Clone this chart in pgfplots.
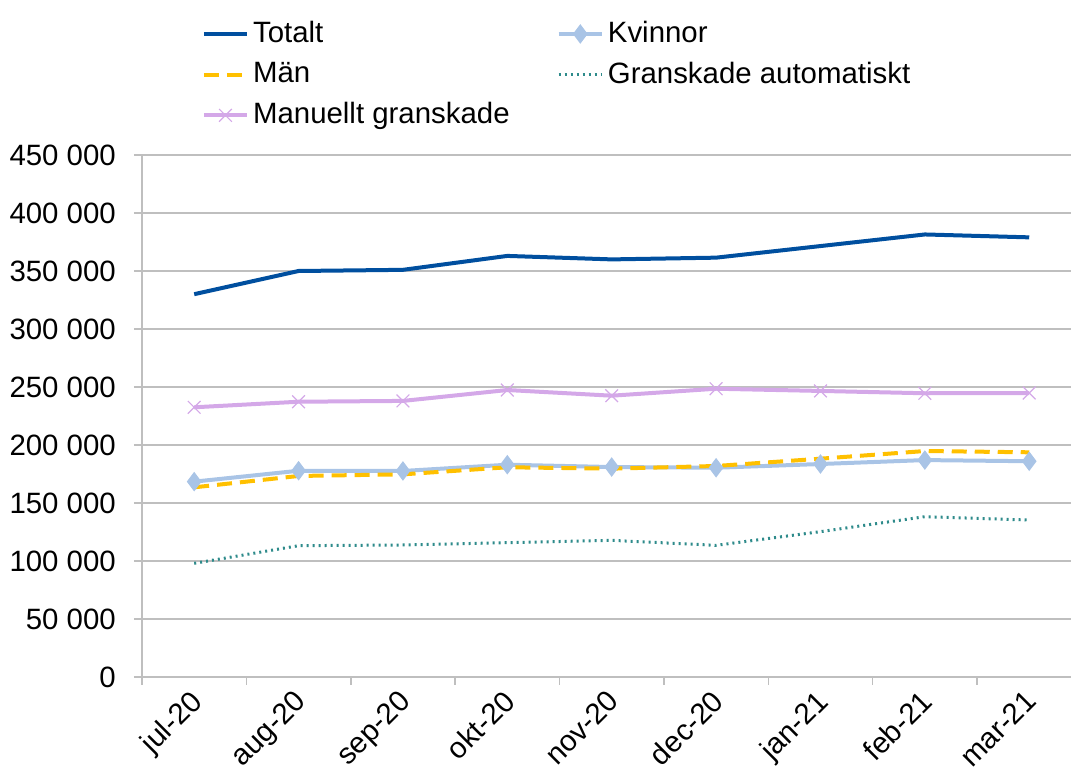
\documentclass[border=0pt]{standalone}
\usepackage{pgfplots}
\pgfplotsset{compat=1.18}
\usepackage{fontspec}
\setmainfont{Liberation Sans}
\definecolor{ctot}{HTML}{004F9F}
\definecolor{ckv}{HTML}{A9C4E6}
\definecolor{cman}{HTML}{FFC000}
\definecolor{caut}{HTML}{2E8B8B}
\definecolor{cmanu}{HTML}{D4A8E8}
\definecolor{cgrid}{HTML}{BFBFBF}
\begin{document}
\fontsize{14.7}{17}\selectfont
\begin{tikzpicture}
\begin{axis}[
  at={(0,0)}, anchor=south west,
  scale only axis, width=464.5pt, height=261pt,
  xmin=-0.5, xmax=8.4, ymin=0, ymax=450000,
  scaled y ticks=false,
  axis x line=bottom, axis y line=left,
  axis line style={cgrid, line width=0.75pt, -},
  xtick={0,...,8},
  xticklabels={jul-20,aug-20,sep-20,okt-20,nov-20,dec-20,jan-21,feb-21,mar-21},
  minor xtick={-0.5,0.5,...,7.5},
  major x tick style={draw=none},
  minor x tick style={cgrid, line width=0.75pt},
  minor tick length=4pt,
  tick align=outside,
  xticklabel style={rotate=45, anchor=north east, font=\fontsize{14.7}{17}\selectfont, inner sep=1pt, xshift=-2pt, yshift=2pt},
  ytick={0,50000,...,450000},
  yticklabels={0,50 000,100 000,150 000,200 000,250 000,300 000,350 000,400 000,450 000},
  yticklabel style={font=\fontsize{14.7}{17}\selectfont, xshift=-4pt},
  major y tick style={cgrid, line width=0.75pt},
  major tick length=4pt,
  ymajorgrids, major grid style={cgrid, line width=0.75pt},
  clip=false,
  legend columns=2,
  legend cell align=left,
  legend style={draw=none, fill=none, inner sep=0pt,
    at={(rel axis cs:0.064,1.265)}, anchor=north west,
    font=\fontsize{14.7}{17}\selectfont,
    /tikz/every even column/.style={column sep=21.5pt},
    row sep=3.5pt},
  legend image code/.code={\draw[mark repeat=2,mark phase=2] plot coordinates {(0cm,0cm) (0.38cm,0cm) (0.76cm,0cm)};},
]
\addplot[ctot, line width=2pt, no markers] coordinates {
(0,330000) (1,350000) (2,351000) (3,363000) (4,360000) (5,361500) (6,371500) (7,381500) (8,379000)};
\addlegendentry{Totalt}
\addplot[ckv, line width=2pt, mark=diamond*, mark size=4.5pt, mark options={fill=ckv, draw=ckv, line width=0.5pt}] coordinates {
(0,168400) (1,177800) (2,177600) (3,183000) (4,181000) (5,180400) (6,183600) (7,187000) (8,186000)};
\addlegendentry{Kvinnor}
\addplot[cman, line width=2pt, dash pattern=on 7.5pt off 4pt, no markers] coordinates {
(0,163500) (1,173300) (2,174700) (3,180800) (4,179600) (5,181900) (6,188200) (7,194800) (8,193700)};
\addlegendentry{Män}
\addplot[caut, line width=1.5pt, dash pattern=on 1pt off 2pt, no markers] coordinates {
(0,98000) (1,113200) (2,113800) (3,115800) (4,117800) (5,113500) (6,125300) (7,138200) (8,135300)};
\addlegendentry{Granskade automatiskt}
\addplot[cmanu, line width=2pt, mark=x, mark size=4.5pt, mark options={draw=cmanu, line width=0.6pt}] coordinates {
(0,232500) (1,237300) (2,238000) (3,247400) (4,242500) (5,248500) (6,246600) (7,244600) (8,244800)};
\addlegendentry{Manuellt granskade}
\end{axis}
\pgfresetboundingbox
\useasboundingbox (-71pt,-48.5pt) rectangle (464.5pt,338.5pt);
\end{tikzpicture}
\end{document}
